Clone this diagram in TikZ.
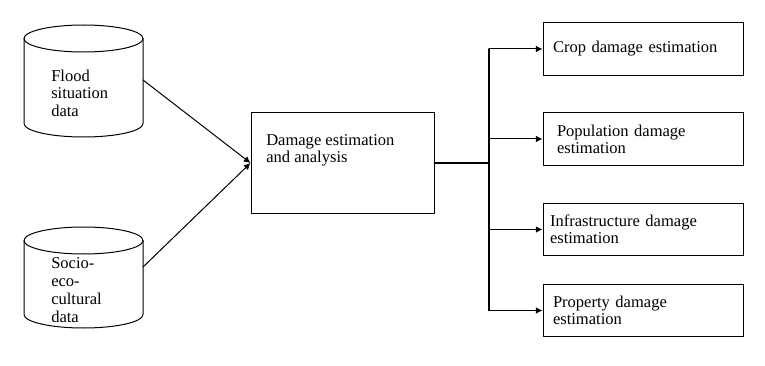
\documentclass[tikz,border=0pt]{standalone}
\usepackage{fontspec}
\setmainfont{Liberation Serif}
\usetikzlibrary{arrows.meta}

\begin{document}
\begin{tikzpicture}[x=0.75pt, y=0.75pt, line cap=round, line join=round,
    box/.style={draw, rectangle, line width=0.75pt},
    outbox/.style={box, minimum width=150pt, minimum height=39.5pt,
      align=left, inner ysep=0pt},
    txt/.style={align=left, inner sep=0pt, anchor=north west},
    flow/.style={-{Latex[length=5pt,width=5pt]}, line width=0.75pt}]
    \fontsize{12.4}{12.9}\selectfont
    \useasboundingbox (0,0) rectangle (765,365);

    % --- input data stores ---
    \begin{scope}[line width=0.75pt]
      \draw (83.5,326.5) ellipse (59.5 and 13.5);
      \draw (24,326.5) -- (24,241.5) arc (180:360:59.5 and 13.5) -- (143,326.5);
      \draw (83.5,124.5) ellipse (59.5 and 13.5);
      \draw (24,124.5) -- (24,50.5) arc (180:360:59.5 and 13.5) -- (143,124.5);
    \end{scope}
    \coordinate (flood) at (143,285);
    \coordinate (socio) at (143,98);
    \node[txt] (floodtxt) at (51,295) {Flood\\situation\\data};
    \node[txt] (sociotxt) at (51,108) {Socio-\\[0.6pt]eco-\\[0.6pt]cultural\\[0.6pt]data};

    % --- central process ---
    \node[box, minimum width=137.25pt, minimum height=75pt] (main) at (342.5,202) {};
    \node[txt] (maintxt) at (266,231) {Damage estimation\\and analysis};

    \draw[flow] (flood) -- (main.west);
    \draw[flow] (socio) -- (main.west);

    % --- outputs ---
    \node[outbox, inner xsep=7.5pt, text width=135pt] (crop) at (643,316) {Crop damage estimation};
    \node[outbox, inner xsep=10.5pt, text width=129pt] (popul) at (643,226) {Population damage\\estimation};
    \node[outbox, inner xsep=5.25pt, text width=139.5pt] (infra) at (643,135.5) {Infrastructure damage\\estimation};
    \node[outbox, inner xsep=7.5pt, text width=135pt] (prop) at (643,54.5) {Property damage\\estimation};

    % branch
    \coordinate (split) at (489,202);
    \draw[line width=1.3pt] (main.east) -- (split);
    \draw[line width=1.1pt] (split |- crop) -- (split |- prop);
    \foreach \b in {crop,popul,infra,prop}{
      \draw[flow] (split |- \b) -- (\b);
    }
  \end{tikzpicture}
\end{document}
